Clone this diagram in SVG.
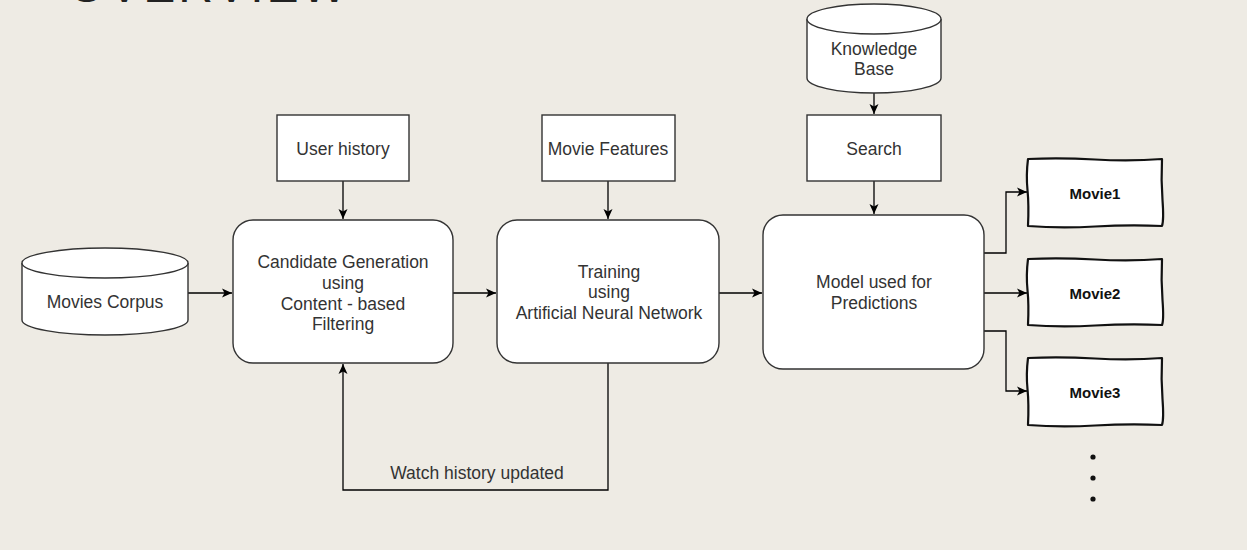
<svg xmlns="http://www.w3.org/2000/svg" width="1247" height="550" viewBox="0 0 1247 550">
<defs>
<marker id="ah" markerWidth="12" markerHeight="12" refX="10" refY="6" orient="auto" markerUnits="userSpaceOnUse">
<path d="M0,1.5 L10,6 L0,10.5 L2.5,6 z" fill="#000"/>
</marker>
<style>
.box{fill:#fff;stroke:#333;stroke-width:1.4}
.sk{fill:#fff;stroke:#111;stroke-width:2.2;stroke-linejoin:round}
.t{font-family:"Liberation Sans",Arial,sans-serif;font-size:17.5px;fill:#333;text-anchor:middle;dominant-baseline:central}
.m{font-family:"Comic Sans MS","Liberation Sans",sans-serif;font-size:15px;font-weight:bold;fill:#111;text-anchor:middle;dominant-baseline:central}
.c{fill:none;stroke:#000;stroke-width:1.3}
</style>
</defs>
<rect width="1247" height="550" fill="#EEEBE4"/>
<text x="68" y="2" font-family="'Liberation Sans',Arial,sans-serif" font-size="48" letter-spacing="3" fill="#222">OVERVIEW</text>

<g id="connectors">
<path class="c" d="M188,293 H232" marker-end="url(#ah)"/>
<path class="c" d="M343,181 V219" marker-end="url(#ah)"/>
<path class="c" d="M453,293 H496" marker-end="url(#ah)"/>
<path class="c" d="M608,181 V219" marker-end="url(#ah)"/>
<path class="c" d="M719,293 H762" marker-end="url(#ah)"/>
<path class="c" d="M874,93 V114" marker-end="url(#ah)"/>
<path class="c" d="M874,181 V214" marker-end="url(#ah)"/>
<path class="c" d="M984,253 H1006 V192 H1027" marker-end="url(#ah)"/>
<path class="c" d="M984,293 H1027" marker-end="url(#ah)"/>
<path class="c" d="M984,331 H1006 V391 H1027" marker-end="url(#ah)"/>
<path class="c" d="M608,363 V490 H343 V364" marker-end="url(#ah)"/>
<text class="t" x="477" y="473">Watch history updated</text>
</g>

<g id="movies-corpus">
<path class="box" d="M22,263 a83,15 0 0,1 166,0 v57 a83,15 0 0,1 -166,0 z"/>
<path class="box" d="M22,263 a83,15 0 0,0 166,0" fill="none"/>
<text class="t" x="105" y="302">Movies Corpus</text>
</g>

<g id="user-history">
<rect class="box" x="277" y="115" width="132" height="66"/>
<text class="t" x="343" y="149">User history</text>
</g>

<g id="candidate-generation">
<rect class="box" x="233" y="220" width="220" height="143" rx="20"/>
<text class="t" x="343" y="262">Candidate Generation</text>
<text class="t" x="343" y="283">using</text>
<text class="t" x="343" y="304">Content - based</text>
<text class="t" x="343" y="324">Filtering</text>
</g>

<g id="movie-features">
<rect class="box" x="542" y="115" width="133" height="66"/>
<text class="t" x="608" y="149">Movie Features</text>
</g>

<g id="training">
<rect class="box" x="497" y="220" width="222" height="143" rx="20"/>
<text class="t" x="609" y="272">Training</text>
<text class="t" x="609" y="292">using</text>
<text class="t" x="609" y="313">Artificial Neural Network</text>
</g>

<g id="knowledge-base">
<path class="box" d="M807,19 a67,15 0 0,1 134,0 v59 a67,15 0 0,1 -134,0 z"/>
<path class="box" d="M807,19 a67,15 0 0,0 134,0" fill="none"/>
<text class="t" x="874" y="49">Knowledge</text>
<text class="t" x="874" y="69">Base</text>
</g>

<g id="search">
<rect class="box" x="807" y="115" width="134" height="66"/>
<text class="t" x="874" y="149">Search</text>
</g>

<g id="model">
<rect class="box" x="763" y="215" width="221" height="154" rx="20"/>
<text class="t" x="874" y="282">Model used for</text>
<text class="t" x="874" y="303">Predictions</text>
</g>

<g id="movie1">
<path class="sk" d="M1028,159 Q1060,157.5 1095,159.5 T1162,159 Q1161,180 1162.5,200 T1162,226 Q1130,224.5 1095,226.5 T1028,226 Q1029,205 1027.5,190 T1028,159 z"/>
<text class="m" x="1095" y="193">Movie1</text>
</g>

<g id="movie2">
<path class="sk" d="M1028,259 Q1060,257.5 1095,259.5 T1162,259 Q1161,280 1162.5,300 T1162,325 Q1130,323.5 1095,325.5 T1028,325 Q1029,305 1027.5,290 T1028,259 z"/>
<text class="m" x="1095" y="293">Movie2</text>
</g>

<g id="movie3">
<path class="sk" d="M1028,358 Q1060,356.5 1095,358.5 T1162,358 Q1161,379 1162.5,399 T1162,425 Q1130,423.5 1095,425.5 T1028,425 Q1029,404 1027.5,389 T1028,358 z"/>
<text class="m" x="1095" y="392">Movie3</text>
</g>

<g id="ellipsis" fill="#111">
<circle cx="1093" cy="457" r="2.6"/>
<circle cx="1093" cy="478" r="2.6"/>
<circle cx="1093" cy="499" r="2.6"/>
</g>
</svg>
